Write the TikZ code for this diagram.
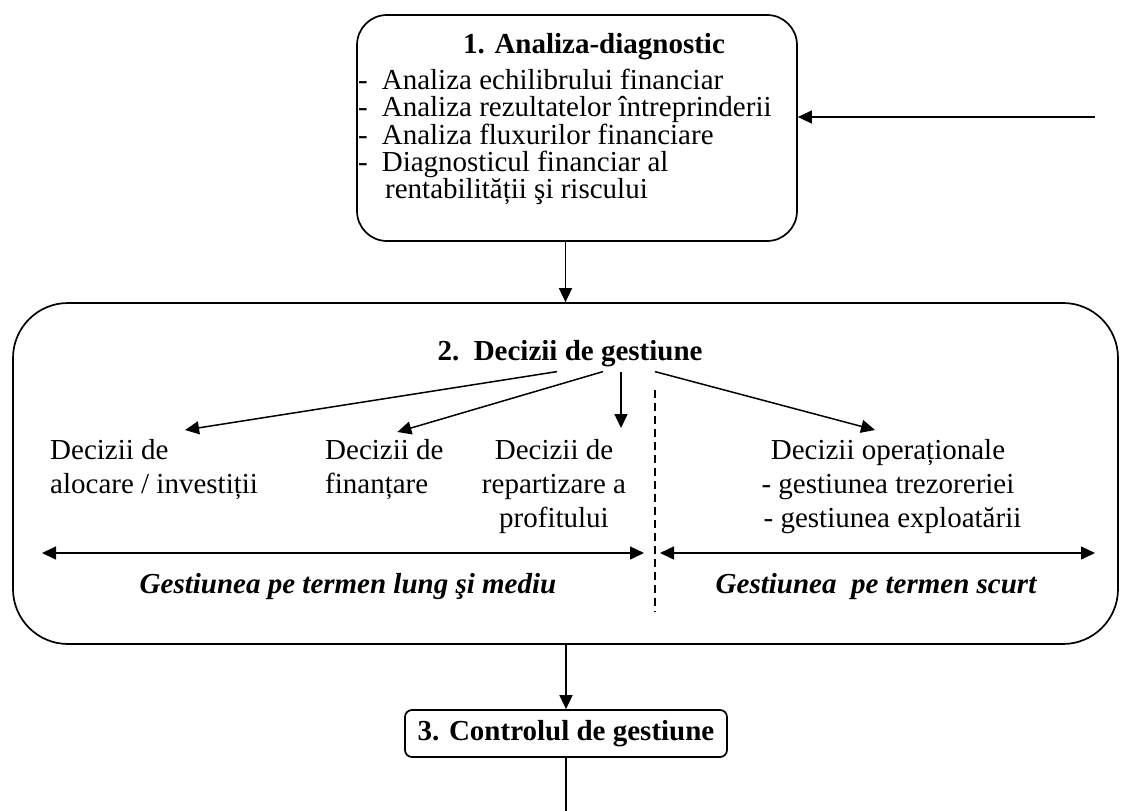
\documentclass[tikz,border=0pt]{standalone}
\usepackage{fontspec}
\setmainfont{Liberation Serif}
\usetikzlibrary{arrows.meta}
\begin{document}
\begin{tikzpicture}[x=1pt,y=-1pt,
 box/.style={draw, line width=1.7pt, inner sep=0pt},
 arr/.style={-{Triangle[length=14pt,width=13pt]}, line width=1.5pt},
 darr/.style={{Triangle[length=14pt,width=13pt]}-{Triangle[length=14pt,width=13pt]}, line width=1.5pt},
 txt/.style={font=\fontsize{29}{34}\selectfont, inner sep=0pt},
 title/.style={font=\fontsize{29}{34}\selectfont\bfseries, inner sep=0pt},
 lbl/.style={font=\fontsize{29}{34}\selectfont\bfseries\itshape, inner sep=0pt},
 dashline/.style={line width=1.3pt, dash pattern=on 8pt off 5pt},
]
\useasboundingbox (0,0) rectangle (1125,811);

% boxes
\node[box, rounded corners=30pt, minimum width=440pt, minimum height=226pt] (b1) at (577,128) {};
\node[box, rounded corners=55pt, minimum width=1105pt, minimum height=341pt] (b2) at (565.5,473.5) {};
\node[box, title, rounded corners=7pt, minimum width=322pt, minimum height=47pt] (b3) at (566,733.5) {3. Controlul de gestiune};

% box 1 texts
\node[title, anchor=base] (t1) at (594,53) {1. Analiza-diagnostic};
\node[txt, font=\fontsize{29}{27.25}\selectfont, align=left, anchor=north west] (l1) at (358,69)
 {-\hspace*{14pt}Analiza echilibrului financiar\\
  -\hspace*{14pt}Analiza rezultatelor întreprinderii\\
  -\hspace*{14pt}Analiza fluxurilor financiare\\
  -\hspace*{14pt}Diagnosticul financiar al\\
  \hspace*{27pt}rentabilității şi riscului};

% box 2 texts
\node[title, anchor=base] (t2) at (570,360) {2.\ \ Decizii de gestiune};
\node[txt, align=left, anchor=north west] (d1) at (50,439) {Decizii de\\alocare / investiții};
\node[txt, align=left, anchor=north west] (d2) at (325,439) {Decizii de\\finanțare};
\node[txt, align=center, anchor=north] (d3) at (554,439) {Decizii de\\repartizare a\\profitului};
\node[txt, align=center, anchor=north] (d4) at (888,439) {Decizii operaționale\\- gestiunea trezoreriei\\\hspace*{9pt}- gestiunea exploatării};
\node[lbl, anchor=base] (g1) at (348,593) {Gestiunea pe termen lung şi mediu};
\node[lbl, anchor=base] (g2) at (876,593) {Gestiunea\ \ pe termen scurt};

% free ends
\coordinate (fb) at (1095,117);
\coordinate (la) at (42,553);
\coordinate (lb) at (644,553);
\coordinate (ra) at (660,553);
\coordinate (rb) at (1095,553);
\coordinate (dt) at (655,390);
\coordinate (db) at (655,612);
\coordinate (end) at (567,811);

% connectors
\draw[arr] (b1.south -| b2.north) -- (b2.north);
\draw[arr] (b2.south -| b3.north) -- (b3.north);
\draw[line width=1.5pt] (b3.south) -- (b3.south |- end);
\draw[arr] (fb) -- (fb -| b1.east);

\draw[arr] ([xshift=-13pt,yshift=-5pt]t2.south) -- ([xshift=31pt,yshift=9pt]d1.north);
\draw[arr] ([xshift=33pt,yshift=-5pt]t2.south) -- ([xshift=13pt,yshift=7pt]d2.north);
\draw[arr] ([xshift=51pt,yshift=-5pt]t2.south) -- ([xshift=67pt,yshift=11pt]d3.north);
\draw[arr] ([xshift=85pt,yshift=-5pt]t2.south) -- ([xshift=-13pt,yshift=9pt]d4.north);

\draw[dashline] (dt) -- (db);
\draw[darr] (la) -- (lb);
\draw[darr] (ra) -- (rb);
\end{tikzpicture}
\end{document}
